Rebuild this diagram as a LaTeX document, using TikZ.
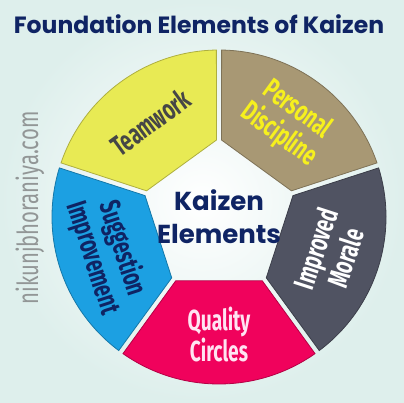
\documentclass[tikz,border=0pt]{standalone}
\usepackage{fontspec}
\usepackage{tikz}
\usetikzlibrary{calc}
\newfontfamily\titlefont{Poppins}
\newfontfamily\segfont[FakeStretch=0.66]{Fira Sans}
\newfontfamily\sitefont[FakeStretch=0.7]{Fira Sans}
\definecolor{bgmint}{RGB}{222,239,236}
\definecolor{navy}{RGB}{15,36,100}
\definecolor{teamcol}{RGB}{232,234,84}
\definecolor{sugcol}{RGB}{28,160,226}
\definecolor{qualcol}{RGB}{240,2,92}
\definecolor{morcol}{RGB}{80,83,98}
\definecolor{perscol}{RGB}{168,152,116}
\definecolor{teamtxt}{RGB}{70,70,70}
\definecolor{perstxt}{RGB}{246,240,30}
\definecolor{qualtxt}{RGB}{255,228,242}
\definecolor{sitetxt}{RGB}{146,150,150}

\begin{document}
\begin{tikzpicture}[x=1pt,y=1pt,
  seg/.style={line width=0.8pt},
  lbl/.style={font=\segfont\bfseries\fontsize{29}{31}\selectfont, align=center, inner sep=0pt},
  heading/.style={font=\titlefont\bfseries, text=navy, align=center, inner sep=0pt}]
\useasboundingbox (0,0) rectangle (404,402);
\shade[inner color=white, outer color=bgmint] (0,0) rectangle (404,402);
\coordinate (O) at (219,185);
%
\node(title) at (199,378) [heading, font=\titlefont\bfseries\fontsize{23.5}{27}\selectfont] {Foundation Elements of Kaizen};
\node(site) at (30,194) [rotate=90, text=sitetxt, inner sep=0pt, font=\sitefont\fontsize{29}{32}\selectfont] {nikunjbhoraniya.com};
%
\foreach \a/\fc/\tc/\rot/\txt in {90/teamcol/teamtxt/36/Teamwork,
    162/sugcol/navy/-72/{Suggestion\\Improvement},
    234/qualcol/qualtxt/0/{Quality\\Circles},
    306/morcol/white/72/{Improved\\Morale},
    18/perscol/perstxt/-36/{Personal\\Discipline}}{
  \filldraw[fill=\fc, draw=\fc!75!black, seg] ($(O)+(\a:77pt)+(\a+90:2.5pt)$) -- ($(O)+(\a+0.9:167pt)$)
    arc[start angle=\a+0.9, end angle=\a+71.1, radius=167pt]
    -- ($(O)+(\a+72:77pt)+(\a-18:2.5pt)$) -- cycle;
  \node(lbl\a) at ($(O)+(\a+36:117pt)$) [lbl, text=\tc, rotate=\rot] {\txt};
}
%
\node(center) at (O) [heading, font=\titlefont\bfseries\fontsize{26}{33}\selectfont] {Kaizen\\Elements};
\end{tikzpicture}
\end{document}
